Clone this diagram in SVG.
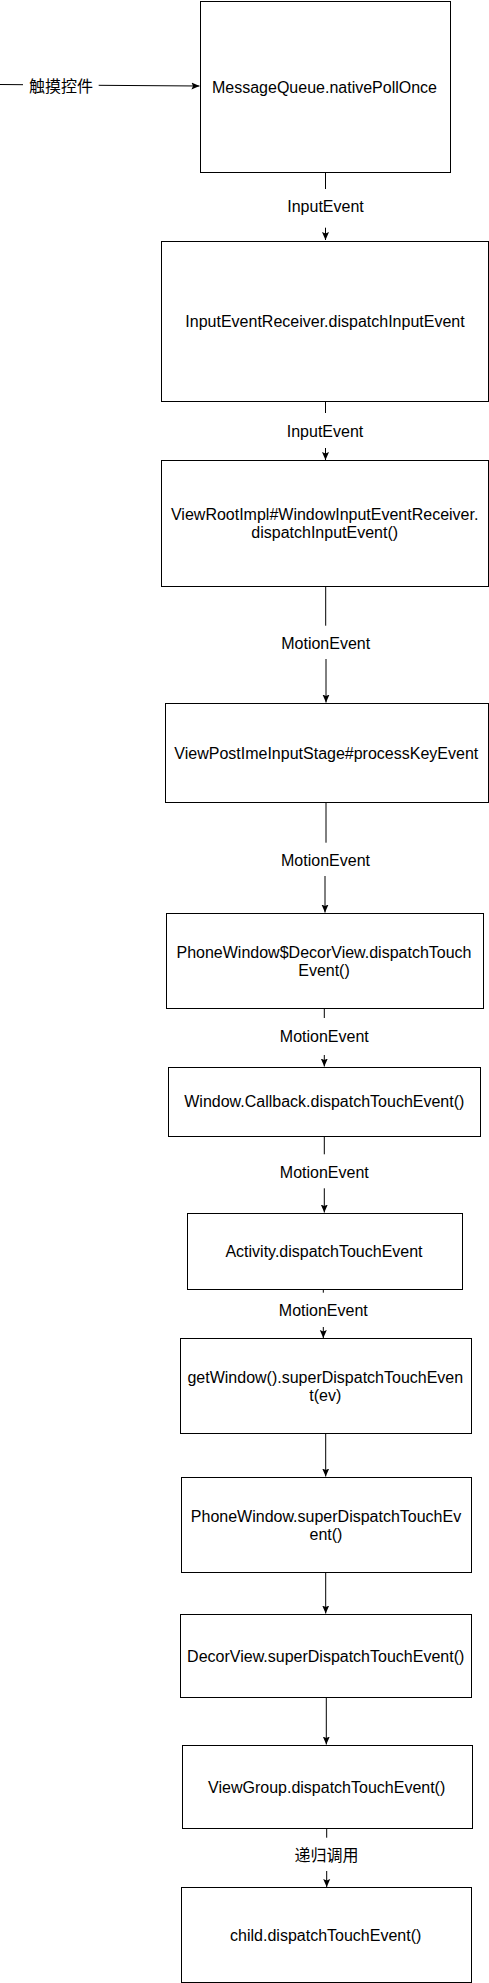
<svg xmlns="http://www.w3.org/2000/svg" width="489" height="1983" viewBox="0 0 489 1983">
<defs>
<style>
.box{fill:#fff;stroke:#000;stroke-width:1}
.t{font-family:"Liberation Sans",Arial,"Noto Sans CJK SC",sans-serif;font-size:16px;fill:#000;text-anchor:middle}
.e{fill:none;stroke:#000;stroke-width:1}
</style>
<marker id="arr" viewBox="0 0 8 8" refX="8" refY="4" markerWidth="8" markerHeight="8" markerUnits="userSpaceOnUse" orient="auto">
<path d="M0,0.5 L8,4 L0,7.5 L1.5,4 z" fill="#000"/>
</marker>
</defs>
<rect width="489" height="1983" fill="#fff"/>
<g id="connectors">
<g id="e0"><path class="e" d="M0,84.5 L23,84.7"/><path class="e" d="M98.7,85.3 L199.5,86" marker-end="url(#arr)"/><text class="t" x="61" y="92">触摸控件</text></g>
<g id="e1"><path class="e" d="M325.5,172.5 V189"/><path class="e" d="M325.5,227.7 V240" marker-end="url(#arr)"/><text class="t" x="325.5" y="212">InputEvent</text></g>
<g id="e2"><path class="e" d="M325.5,401.5 V413"/><path class="e" d="M325.5,448 V460" marker-end="url(#arr)"/><text class="t" x="325" y="436.5">InputEvent</text></g>
<g id="e3"><path class="e" d="M325.7,586.5 V625.7"/><path class="e" d="M326,659 V702.5" marker-end="url(#arr)"/><text class="t" x="325.7" y="649">MotionEvent</text></g>
<g id="e4"><path class="e" d="M326,802.5 V842.7"/><path class="e" d="M325,876 V912.5" marker-end="url(#arr)"/><text class="t" x="325.5" y="865.5">MotionEvent</text></g>
<g id="e5"><path class="e" d="M324.3,1008.5 V1018"/><path class="e" d="M324.3,1055 V1066.5" marker-end="url(#arr)"/><text class="t" x="324.3" y="1041.5">MotionEvent</text></g>
<g id="e6"><path class="e" d="M324.3,1136.5 V1154.3"/><path class="e" d="M324.3,1188.3 V1212.5" marker-end="url(#arr)"/><text class="t" x="324.3" y="1177.5">MotionEvent</text></g>
<g id="e7"><path class="e" d="M323.3,1289.5 V1292.7"/><path class="e" d="M323.3,1327 V1338" marker-end="url(#arr)"/><text class="t" x="323.3" y="1315.5">MotionEvent</text></g>
<g id="e8"><path class="e" d="M325.7,1433.5 V1476.5" marker-end="url(#arr)"/></g>
<g id="e9"><path class="e" d="M325.7,1572.5 V1613.5" marker-end="url(#arr)"/></g>
<g id="e10"><path class="e" d="M326.3,1697.5 V1744.5" marker-end="url(#arr)"/></g>
<g id="e11"><path class="e" d="M326.7,1828.5 V1837.7"/><path class="e" d="M326.7,1871 V1887" marker-end="url(#arr)"/><text class="t" x="326.5" y="1861">递归调用</text></g>
</g>
<g id="n1"><rect class="box" x="200.5" y="1.5" width="250" height="171"/><text class="t" x="324.5" y="92.5">MessageQueue.nativePollOnce</text></g>
<g id="n2"><rect class="box" x="161.5" y="241.5" width="327" height="160"/><text class="t" x="325" y="326.5">InputEventReceiver.dispatchInputEvent</text></g>
<g id="n3"><rect class="box" x="161.5" y="460.5" width="327" height="126"/><text class="t" x="324.7" y="520">ViewRootImpl#WindowInputEventReceiver.</text><text class="t" x="324.7" y="537.5">dispatchInputEvent()</text></g>
<g id="n4"><rect class="box" x="165.5" y="703.5" width="323" height="99"/><text class="t" x="326.3" y="759">ViewPostImeInputStage#processKeyEvent</text></g>
<g id="n5"><rect class="box" x="166.5" y="913.5" width="317" height="95"/><text class="t" x="324" y="957.5">PhoneWindow$DecorView.dispatchTouch</text><text class="t" x="324" y="975.5">Event()</text></g>
<g id="n6"><rect class="box" x="168.5" y="1067.5" width="312" height="69"/><text class="t" x="324.3" y="1107.3">Window.Callback.dispatchTouchEvent()</text></g>
<g id="n7"><rect class="box" x="187.5" y="1213.5" width="275" height="76"/><text class="t" x="324" y="1256.7">Activity.dispatchTouchEvent</text></g>
<g id="n8"><rect class="box" x="180.5" y="1338.5" width="291" height="95"/><text class="t" x="325.3" y="1383.3">getWindow().superDispatchTouchEven</text><text class="t" x="325.3" y="1401">t(ev)</text></g>
<g id="n9"><rect class="box" x="181.5" y="1477.5" width="290" height="95"/><text class="t" x="326" y="1522">PhoneWindow.superDispatchTouchEv</text><text class="t" x="326" y="1540">ent()</text></g>
<g id="n10"><rect class="box" x="180.5" y="1614.5" width="291" height="83"/><text class="t" x="325.7" y="1661.7">DecorView.superDispatchTouchEvent()</text></g>
<g id="n11"><rect class="box" x="182.5" y="1745.5" width="290" height="83"/><text class="t" x="326.7" y="1792.7">ViewGroup.dispatchTouchEvent()</text></g>
<g id="n12"><rect class="box" x="181.5" y="1887.5" width="290" height="95"/><text class="t" x="325.7" y="1940.7">child.dispatchTouchEvent()</text></g>
</svg>
